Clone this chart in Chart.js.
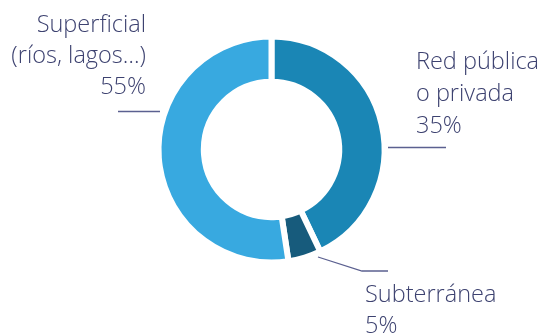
<!DOCTYPE html>
<html>
<head>
<meta charset="utf-8">
<script src="https://cdn.jsdelivr.net/npm/chart.js@4.4.0/dist/chart.umd.min.js"></script>
<style>
  html, body { margin: 0; padding: 0; background: #ffffff; }
  #wrap { width: 548px; height: 335px; position: relative; }
</style>
</head>
<body>
<div id="wrap"><canvas id="chart" width="548" height="335"></canvas></div>
<script>
// Slice names, their printed labels and the shares as drawn in the ring
const categories = ['Red pública o privada', 'Subterránea', 'Superficial'];
const labelLines = [
  ['Red pública', 'o privada', '35%'],
  ['Subterránea', '5%'],
  ['Superficial', '(ríos, lagos…)', '55%']
];
const shares = [42.9, 4.7, 52.4];
const sliceColors = ['#1a86b5', '#175b7c', '#38a9e0'];

const textColor = '#3d4270';
const lineColor = '#5b6090';

// Draws the outside labels with their leader lines
const calloutPlugin = {
  id: 'callouts',
  afterDraw(chart) {
    const ctx = chart.ctx;
    ctx.save();
    ctx.font = '300 23.5px "Open Sans"';
    ctx.fillStyle = textColor;
    ctx.textBaseline = 'alphabetic';

    // Red pública (left aligned, right of ring)
    ctx.textAlign = 'left';
    labelLines[0].forEach((t, i) => ctx.fillText(t, 416, 69 + i * 32));

    // Subterránea
    labelLines[1].forEach((t, i) => ctx.fillText(t, 365, 302 + i * 31));

    // Superficial (right aligned, left of ring)
    ctx.textAlign = 'right';
    labelLines[2].forEach((t, i) => ctx.fillText(t, 146, 32 + i * 31));

    // leader lines
    ctx.strokeStyle = lineColor;
    ctx.lineWidth = 1.3;
    ctx.beginPath();
    ctx.moveTo(118, 111.5); ctx.lineTo(160, 111.5);
    ctx.moveTo(388, 147.5); ctx.lineTo(446, 147.5);
    ctx.moveTo(318, 257); ctx.lineTo(362, 271); ctx.lineTo(388, 271);
    ctx.stroke();
    ctx.restore();
  }
};

const ctx = document.getElementById('chart').getContext('2d');
new Chart(ctx, {
  type: 'doughnut',
  data: {
    labels: categories,
    datasets: [{
      data: shares,
      backgroundColor: sliceColors,
      borderColor: '#ffffff',
      borderWidth: 6,
      hoverOffset: 0
    }]
  },
  options: {
    responsive: false,
    animation: false,
    radius: 113,
    cutout: 65,
    layout: { padding: { left: 160, right: 165, top: 36, bottom: 72 } },
    plugins: {
      legend: { display: false },
      tooltip: { enabled: false }
    }
  },
  plugins: [calloutPlugin]
});
</script>
</body>
</html>
